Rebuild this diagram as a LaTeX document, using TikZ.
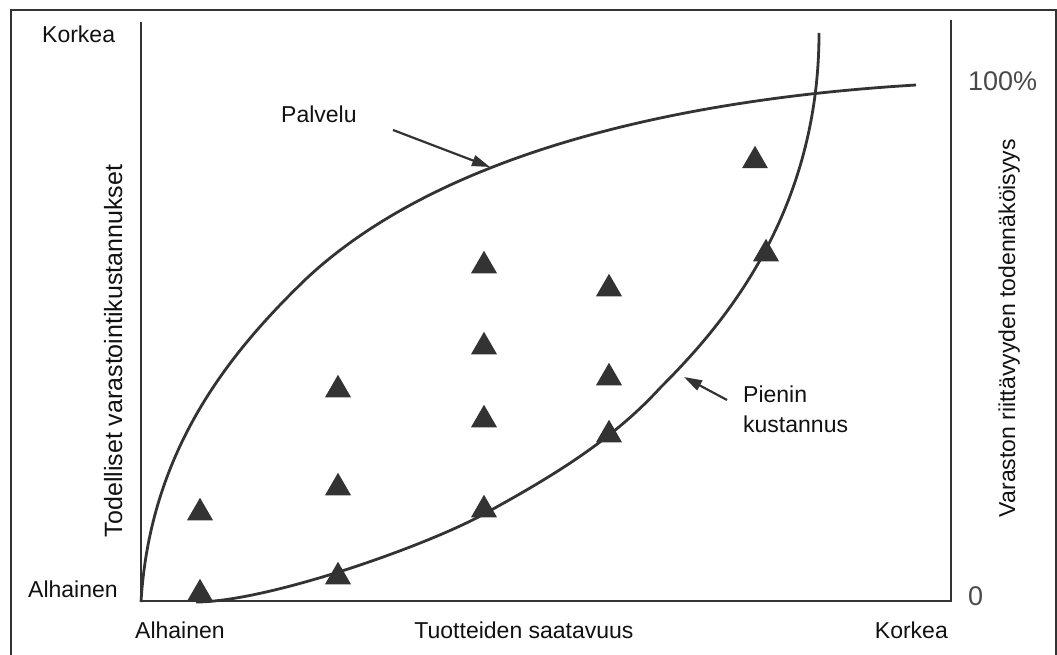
\documentclass[tikz,border=0pt]{standalone}
\usepackage{fontspec}
\setmainfont{Liberation Sans}
\usetikzlibrary{arrows.meta,shapes.geometric}
\definecolor{ink}{HTML}{333333}
\definecolor{txt}{HTML}{111111}
\definecolor{gr}{HTML}{4A4A4A}
\begin{document}
\begin{tikzpicture}[x=1pt,y=-1pt,
  lbl/.style={font=\fontsize{23}{27}\selectfont, text=txt, inner sep=0pt},
  big/.style={font=\fontsize{27}{32}\selectfont, text=gr, inner sep=0pt},
  axis/.style={draw=ink, line width=2.2pt},
  curve/.style={draw=ink, line width=2.8pt},
  tri/.style={regular polygon, regular polygon sides=3, minimum size=30pt, inner sep=0pt, fill=ink, yshift=-3.75pt},
  pointer/.style={draw=ink, line width=2.2pt, -{Triangle[length=18pt,width=11pt]}}]
\useasboundingbox (0,0) rectangle (1057,655);
% frame
\draw[ink, line width=2.6pt] (11,660) -- (11,10) -- (1056,10) -- (1056,660);
% axes
\coordinate (ytop) at (141,22);
\coordinate (orig) at (141,601);
\coordinate (xend) at (951,601);
\coordinate (rtop) at (951,20);
\draw[axis] (ytop) -- (orig) -- (xend) -- (rtop);
% service curve
\coordinate (s0) at (141,602);
\coordinate (s1) at (307,278);
\coordinate (s2) at (916,85);
\draw[curve] (s0) .. controls (150,450) and (230,352) .. (s1)
                  .. controls (437,157) and (666,100) .. (s2);
% cost curve
\coordinate (c0) at (196,602);
\coordinate (c1) at (484,514);
\coordinate (c2) at (660,388);
\coordinate (c3) at (819,33);
\draw[curve] (c0) .. controls (266,602) and (424,547) .. (c1)
                  .. controls (544,481) and (610,443) .. (c2)
                  .. controls (715,333) and (819,220) .. (c3);
% triangles
\node[tri] (t1) at (200,509) {};
\node[tri] (t2) at (200,590) {};
\node[tri] (t3) at (338,386) {};
\node[tri] (t4) at (338,484) {};
\node[tri] (t5) at (338,573) {};
\node[tri] (t6) at (484,262) {};
\node[tri] (t7) at (484,343) {};
\node[tri] (t8) at (484,416) {};
\node[tri] (t9) at (484,506) {};
\node[tri] (t10) at (609,285) {};
\node[tri] (t11) at (609,374) {};
\node[tri] (t12) at (609,431) {};
\node[tri] (t13) at (755,157) {};
\node[tri] (t14) at (766,250) {};
% labels
\node[lbl, anchor=base west] (ktop) at (42,43) {Korkea};
\node[lbl, anchor=base west] (aleft) at (28,597) {Alhainen};
\node[lbl, anchor=base west] (abot) at (135,638) {Alhainen};
\node[lbl, anchor=base] (xlab) at (524,638) {Tuotteiden saatavuus};
\node[lbl, anchor=base east] (kbot) at (948,638) {Korkea};
\node[big, anchor=base west] (p100) at (968,91) {100\%};
\node[big, anchor=base west] (p0) at (968,605) {0};
\node[lbl, font=\fontsize{25}{29}\selectfont, anchor=base, rotate=90] (ylab) at (122,351) {Todelliset varastointikustannukset};
\node[lbl, anchor=base, rotate=90] (rlab) at (1015,328) {Varaston riittävyyden todennäköisyys};
\node[lbl, anchor=base west] (palv) at (281,123) {Palvelu};
\node[lbl, anchor=base west] (pien) at (743,402) {Pienin};
\node[lbl, anchor=base west] (kust) at (743,432) {kustannus};
% pointers
\coordinate (pvt) at (393,130);
\coordinate (pvh) at (490,167);
\draw[pointer] (pvt) -- (pvh);
\coordinate (pkt) at (727,400);
\coordinate (pkh) at (684,377);
\draw[pointer] (pkt) -- (pkh);
\end{tikzpicture}
\end{document}
